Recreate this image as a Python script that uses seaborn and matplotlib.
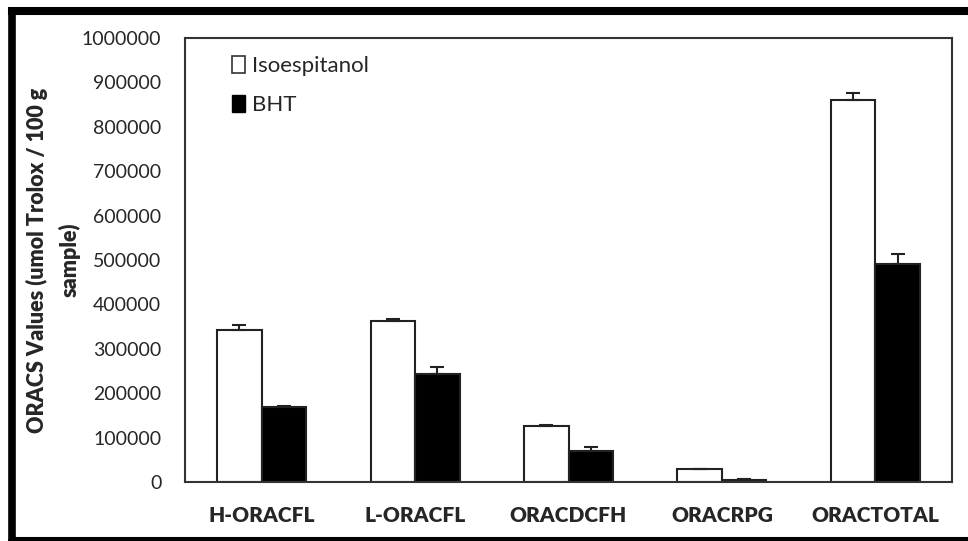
import matplotlib
matplotlib.use("Agg")
import matplotlib.pyplot as plt
import seaborn as sns
import pandas as pd
import numpy as np
from matplotlib.lines import Line2D
from matplotlib.patches import Patch

categories = ["H-ORACFL", "L-ORACFL", "ORACDCFH", "ORACRPG", "ORACTOTAL"]
series = ["Isoespitanol", "BHT"]
iso_values = [342000, 362000, 126000, 29000, 860000]
iso_errors = [12000, 5000, 2000, 1000, 16000]
bht_values = [169000, 243000, 70000, 4000, 491000]
bht_errors = [2000, 16000, 9000, 2000, 22000]
y_ticks = [0, 100000, 200000, 300000, 400000, 500000, 600000, 700000, 800000, 900000, 1000000]

df = pd.DataFrame({
    "category": categories * 2,
    "series": [series[0]] * 5 + [series[1]] * 5,
    "value": iso_values + bht_values,
    "err": iso_errors + bht_errors,
})

sns.set_theme(style="white")
plt.rcParams['font.family'] = ['Lato', 'DejaVu Sans']

W, H = 968, 541
fig = plt.figure(figsize=(W / 100, H / 100), dpi=100)
ax = fig.add_axes([185 / W, 1 - 482 / H, (952 - 185) / W, (482 - 38) / H])

palette = {"Isoespitanol": "white", "BHT": "black"}
sns.barplot(data=df, x="category", y="value", hue="series", order=categories,
            hue_order=series, palette=palette, width=0.58, gap=0,
            edgecolor="#222222", linewidth=1.5, errorbar=None, legend=False, ax=ax)

bars = list(ax.patches)
n = len(categories)
for i, s in enumerate(series):
    vals = df[df.series == s]["value"].values
    errs = df[df.series == s]["err"].values
    for j in range(n):
        p = bars[i * n + j]
        xc = p.get_x() + p.get_width() / 2
        ax.errorbar([xc], [vals[j]], yerr=[[0], [errs[j]]], fmt="none",
                    ecolor="#222222", elinewidth=1.5, capsize=5, capthick=1.5)

ax.set_xlim(-0.5, 4.5)
ax.set_ylim(0, 1000000)
ax.set_yticks(y_ticks)
ax.set_yticklabels([str(t) for t in y_ticks], fontsize=14)
ax.set_xticks(range(n))
ax.set_xticklabels(categories, fontsize=15, fontweight="heavy")
ax.tick_params(axis="x", pad=17, length=0)
ax.tick_params(axis="y", pad=17, length=0)
ax.set_xlabel("")
ax.set_ylabel("ORACS Values (umol Trolox / 100 g\nsample)", fontsize=15.5,
              fontweight="heavy", labelpad=1, linespacing=1.6)
for sp in ax.spines.values():
    sp.set_color("#333333")
    sp.set_linewidth(1.5)

handles = [Patch(facecolor="white", edgecolor="#333333", linewidth=1.2),
           Patch(facecolor="black", edgecolor="black")]
leg = ax.legend(handles, series, loc="upper left", bbox_to_anchor=(0.035, 1.005),
                frameon=False, fontsize=16, labelspacing=0.85, handlelength=0.6,
                handleheight=0.8, handletextpad=0.3)

# thick outer frame
fig.add_artist(Line2D([11.5 / W, 11.5 / W], [1 - 11 / H, 0], transform=fig.transFigure,
                      color="black", linewidth=5.5, solid_capstyle="projecting"))
fig.add_artist(Line2D([11.5 / W, 1.05], [1 - 11 / H, 1 - 11 / H], transform=fig.transFigure,
                      color="black", linewidth=5.8, solid_capstyle="projecting"))
fig.add_artist(Line2D([11.5 / W, 1.05], [1 - 541 / H, 1 - 541 / H], transform=fig.transFigure,
                      color="black", linewidth=5.8))

fig.savefig("out.png", dpi=100)
